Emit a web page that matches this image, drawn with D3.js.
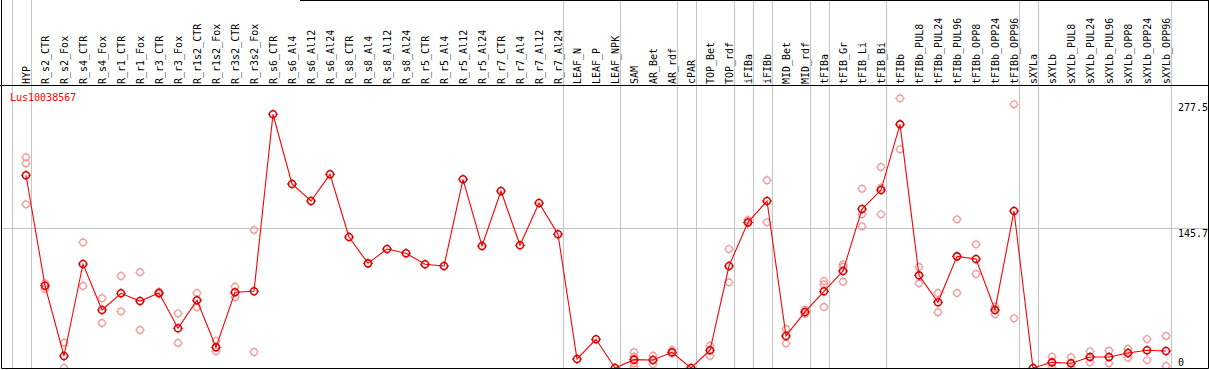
<!DOCTYPE html>
<html>
<head>
<meta charset="utf-8">
<script src="https://cdn.jsdelivr.net/npm/d3@7"></script>
<style>
    body { margin: 0; background: #fff; }
    svg text { font-family: "DejaVu Sans Mono", monospace; font-size: 10px; }
</style>
</head>
<body>
<svg id="chart"></svg>
<script>
'use strict';

/*
    Data
*/

const GENE = 'Lus10038567';

const SAMPLES = [
    'HYP', 'R_s2_CTR', 'R_s2_Fox', 'R_s4_CTR', 'R_s4_Fox', 'R_r1_CTR', 'R_r1_Fox',
    'R_r3_CTR', 'R_r3_Fox', 'R_r1s2_CTR', 'R_r1s2_Fox', 'R_r3s2_CTR', 'R_r3s2_Fox',
    'R_s6_CTR', 'R_s6_Al4', 'R_s6_Al12', 'R_s6_Al24', 'R_s8_CTR', 'R_s8_Al4',
    'R_s8_Al12', 'R_s8_Al24', 'R_r5_CTR', 'R_r5_Al4', 'R_r5_Al12', 'R_r5_Al24',
    'R_r7_CTR', 'R_r7_Al4', 'R_r7_Al12', 'R_r7_Al24', 'LEAF_N', 'LEAF_P', 'LEAF_NPK',
    'SAM', 'AR_Bet', 'AR_rdf', 'cPAR', 'TOP_Bet', 'TOP_rdf', 'iFIBa', 'iFIBb',
    'MID_Bet', 'MID_rdf', 'tFIBa', 'tFIB_Gr', 'tFIB_Li', 'tFIB_Bi', 'tFIBb',
    'tFIBb_PUL8', 'tFIBb_PUL24', 'tFIBb_PUL96', 'tFIBb_OPP8', 'tFIBb_OPP24', 'tFIBb_OPP96',
    'sXYLa', 'sXYLb', 'sXYLb_PUL8', 'sXYLb_PUL24', 'sXYLb_PUL96', 'sXYLb_OPP8',
    'sXYLb_OPP24', 'sXYLb_OPP96'
];

const MEANS = [
    200.9, 85.8, 12.5, 108.4, 60.5, 77.9, 69.8, 78.2, 41.4, 70.6, 21.6, 78.9, 80.0,
    264.5, 191.8, 174.1, 201.9, 136.6, 109.1, 124.0, 119.6, 108.1, 106.3, 196.7, 127.2,
    184.5, 127.9, 172.0, 139.4, 9.4, 29.9, 0,
    8.7, 8.3, 16.4, 0, 18.5, 106.3, 151.9, 174.1, 33.4, 58.4,
    80.0, 101.1, 165.7, 185.5, 254.0, 96.6, 68.5, 116.4, 113.6, 60.5, 163.7,
    0, 5.9, 4.9, 11.5, 11.5, 15.6, 18.5, 17.7
];

const REPLICATES = [
    [219.6, 213.4, 170.6], [88.3, 82.3], [26.4, 0], [131.0, 85.5], [72.7, 46.9],
    [95.9, 59.1], [99.8, 39.6], [79.5, 77.1], [57.0, 26.1], [78.2, 63.3],
    [28.1, 17.4], [84.7, 73.7], [143.9, 16.7],
    [], [], [], [], [], [], [], [], [], [], [], [], [], [], [], [], [], [], [],
    [16.4, 11.8, 4.9, 1.4], [12.8, 3.9], [18.8, 15.3], [], [23.2, 12.5], [124.0, 89.3],
    [154.3, 150.8], [195.7, 151.9], [40.7, 25.7], [60.8, 56.3],
    [90.7, 87.2, 63.6], [108.1, 105.6, 90.0], [186.9, 160.2, 147.7], [209.5, 187.9, 160.2],
    [281.1, 228.0], [105.3, 88.3], [78.2, 58.1], [155.0, 78.2], [128.9, 98.0],
    [63.9, 56.0], [274.9, 51.8],
    [], [11.8, 0], [11.2, 0], [17.4, 5.9], [18.0, 4.9], [20.1, 10.7], [30.2, 8.3], [33.4, 2.1]
];

// Group separators sit just after these sample indices
const GROUP_ENDS = [-1, 0, 28, 31, 34, 35, 37, 38, 39, 41, 42, 45, 52, 53, 60];

const Y_TICKS = [277.5, 145.7, 0];
const Y_GRID  = [145.7];
const Y_MAX   = 295;

/*
    Constants
*/

const CHART = d3.select('#chart');

const DIMENSIONS = Object.freeze({
    WIDTH  : 1209,
    HEIGHT : 370
});

const PLOT = Object.freeze({
    LEFT   : 1.5,
    RIGHT  : 1208.5,
    TOP    : 85.5,
    BOTTOM : 368.5
});

const COLORS = Object.freeze({
    LINE  : '#ff0000',
    MEAN  : '#e00000',
    REP   : '#f09a9a',
    GRID  : '#c4c4c4',
    FRAME : '#000000'
});

/*
    Scales
*/

let x = d3.scaleLinear()
              .domain([0, SAMPLES.length - 1])
              .range([26, 1166]);

let y = d3.scaleLinear()
              .domain([0, Y_MAX])
              .range([368, 85]);

/*
    D3 code
*/

CHART.attr('width', DIMENSIONS.WIDTH)
     .attr('height', DIMENSIONS.HEIGHT);

CHART.append('defs')
       .append('clipPath')
         .attr('id', 'plot-clip')
       .append('rect')
         .attr('x', PLOT.LEFT)
         .attr('y', PLOT.TOP)
         .attr('width', PLOT.RIGHT - PLOT.LEFT)
         .attr('height', PLOT.BOTTOM - PLOT.TOP - 0.5);

// Vertical group separators run the whole height
CHART.append('g')
       .selectAll('line')
       .data(GROUP_ENDS)
       .join('line')
         .attr('x1', d => Math.round(x(d) + 5) + 0.5)
         .attr('x2', d => Math.round(x(d) + 5) + 0.5)
         .attr('y1', 0)
         .attr('y2', PLOT.BOTTOM)
         .attr('stroke', COLORS.GRID);

CHART.append('g')
       .selectAll('line')
       .data(Y_GRID)
       .join('line')
         .attr('x1', PLOT.LEFT)
         .attr('x2', PLOT.RIGHT)
         .attr('y1', d => Math.round(y(d)) + 0.5)
         .attr('y2', d => Math.round(y(d)) + 0.5)
         .attr('stroke', COLORS.GRID);

// Frame
const FRAME = CHART.append('g')
                     .attr('stroke', COLORS.FRAME)
                     .attr('fill', 'none');

FRAME.append('line').attr('x1', PLOT.LEFT).attr('x2', PLOT.LEFT).attr('y1', 0).attr('y2', PLOT.BOTTOM);
FRAME.append('line').attr('x1', PLOT.RIGHT).attr('x2', PLOT.RIGHT).attr('y1', 0).attr('y2', PLOT.BOTTOM);
FRAME.append('line').attr('x1', 0).attr('x2', PLOT.RIGHT).attr('y1', PLOT.TOP).attr('y2', PLOT.TOP);
FRAME.append('line').attr('x1', PLOT.LEFT).attr('x2', PLOT.RIGHT).attr('y1', PLOT.BOTTOM).attr('y2', PLOT.BOTTOM);
FRAME.append('line').attr('x1', 300).attr('x2', PLOT.RIGHT).attr('y1', 0.5).attr('y2', 0.5);

// Sample labels, rotated
CHART.append('g')
       .selectAll('text')
       .data(SAMPLES)
       .join('text')
         .attr('transform', (d, i) => `translate(${x(i) + 4},84) rotate(-90)`)
         .attr('text-anchor', 'start')
         .attr('fill', '#000')
         .text(d => d);

CHART.append('text')
       .attr('x', 10)
       .attr('y', 101)
       .attr('fill', COLORS.LINE)
       .text(GENE);

// Right hand value labels
const yAxis = d3.axisRight(y)
                  .tickValues(Y_TICKS)
                  .tickSize(0)
                  .tickPadding(0)
                  .tickFormat(d => String(d));

CHART.append('g')
       .attr('class', 'y-axis')
       .attr('transform', 'translate(1178,0)')
       .call(yAxis)
       .call(g => g.select('.domain').remove())
       .call(g => g.selectAll('text')
                     .attr('x', 0)
                     .attr('dy', d => d === 0 ? '-0.3em' : '0.85em')
                     .attr('fill', '#000')
                     .style('font-family', '"DejaVu Sans Mono", monospace')
                     .style('font-size', '10px'));

/*
    Marks
*/

const PLOT_G = CHART.append('g')
                      .attr('clip-path', 'url(#plot-clip)');

function drawMarker(sel, radius, color, width) {
    sel.append('circle')
         .attr('r', radius)
         .attr('fill', 'none')
         .attr('stroke', color)
         .attr('stroke-width', width);
    sel.append('path')
         .attr('d', `M0,${-radius - 1.5}V${-radius}M0,${radius}V${radius + 1.5}` +
                    `M${-radius - 1.5},0H${-radius}M${radius},0H${radius + 1.5}`)
         .attr('stroke', color)
         .attr('stroke-width', 1);
}

const REP_POINTS = REPLICATES.flatMap((reps, i) => reps.map(v => ({ i, v })));

PLOT_G.append('g')
        .selectAll('g')
        .data(REP_POINTS)
        .join('g')
          .attr('transform', d => `translate(${x(d.i)},${y(d.v)})`)
          .each(function () { drawMarker(d3.select(this), 3.3, COLORS.REP, 1.2); });

const line = d3.line()
                 .x((d, i) => x(i))
                 .y(d => y(d));

PLOT_G.append('path')
        .datum(MEANS)
        .attr('d', line)
        .attr('fill', 'none')
        .attr('stroke', COLORS.LINE)
        .attr('stroke-width', 1.1);

PLOT_G.append('g')
        .selectAll('g')
        .data(MEANS)
        .join('g')
          .attr('transform', (d, i) => `translate(${x(i)},${y(d)})`)
          .each(function () { drawMarker(d3.select(this), 3.5, COLORS.MEAN, 1.6); });
</script>
</body>
</html>
